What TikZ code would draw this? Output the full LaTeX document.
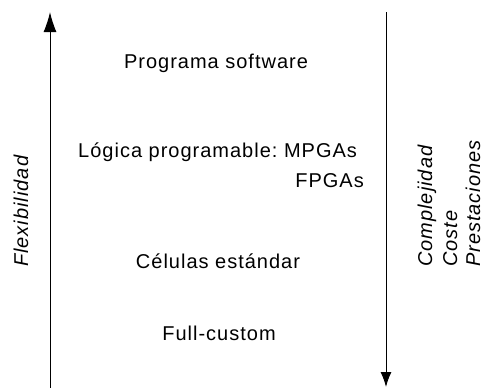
\documentclass[tikz,border=0pt]{standalone}
\usepackage{fontspec}
\setmainfont{Liberation Sans}[LetterSpace=5]
\frenchspacing
\usetikzlibrary{arrows.meta}
\tikzset{
  level/.style={inner sep=0pt, font=\fontsize{20}{24}\selectfont},
  axislabel/.style={inner sep=0pt, rotate=90, anchor=base west,
    font=\fontsize{20}{24}\selectfont\itshape},
  axis/.style={line width=1pt},
  uptip/.style={-{Latex[length=20pt,width=13pt]}},
  downtip/.style={-{Latex[length=15pt,width=11pt]}}
}
\begin{document}
\begin{tikzpicture}[x=1pt,y=-1pt]
  \useasboundingbox (0,0) rectangle (485,388);
  % axis endpoints
  \coordinate (flexlow) at (50,388);
  \coordinate (flexhigh) at (50,12);
  \coordinate (comptop) at (386,12);
  \coordinate (compbot) at (386,387);
  \draw[axis, uptip] (flexlow) -- (flexhigh);
  \draw[axis, downtip] (comptop) -- (compbot);
  % design styles, most flexible at the top
  \node[level, anchor=base] (sw) at (216,68) {Programa software};
  \node[level, anchor=base west] (pl) at (78,157) {Lógica programable: MPGAs};
  \node[level, anchor=base east] (fpga) at (364,187) {FPGAs};
  \node[level, anchor=base] (cells) at (218,268) {Células estándar};
  \node[level, anchor=base] (full) at (219,340) {Full-custom};
  % axis labels
  \node[axislabel] (flex) at (28,267) {Flexibilidad};
  \node[axislabel] (cx) at (432,267) {Complejidad};
  \node[axislabel] (cost) at (457,267) {Coste};
  \node[axislabel] (perf) at (480,267) {Prestaciones};
\end{tikzpicture}
\end{document}
